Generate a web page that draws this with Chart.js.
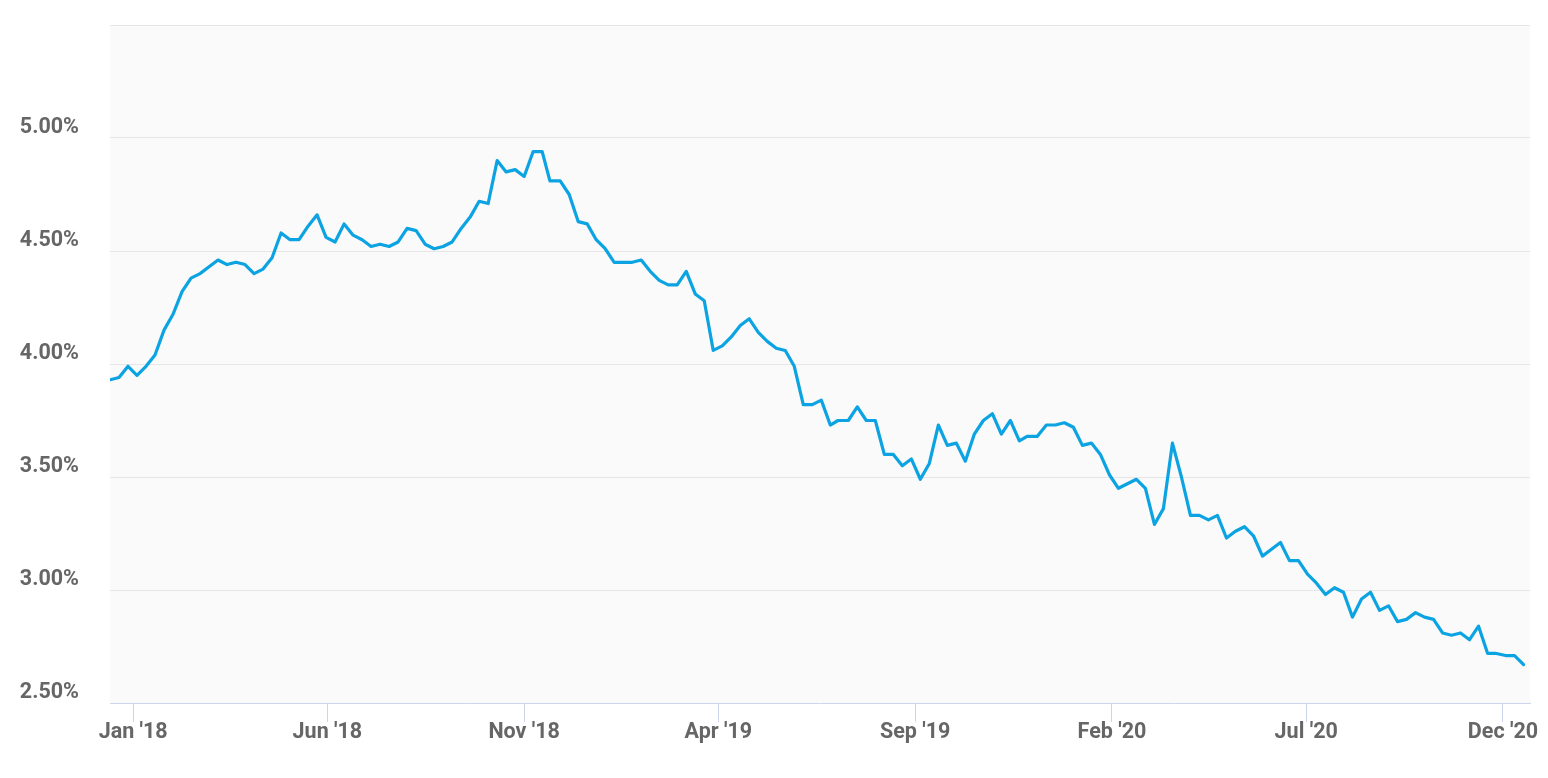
<!DOCTYPE html>
<html>
<head>
<meta charset="utf-8">
<script src="https://cdn.jsdelivr.net/npm/chart.js@4.4.1/dist/chart.umd.min.js"></script>
<style>
  html, body { margin: 0; padding: 0; background: #ffffff; }
  canvas { display: block; }
</style>
</head>
<body>
<canvas id="rate-chart" width="1548" height="778"></canvas>
<script>
// weekly 30-year rate
const weekDates = [
  '2017-12-14', '2017-12-21', '2017-12-28',
  '2018-01-04', '2018-01-11', '2018-01-18', '2018-01-25',
  '2018-02-01', '2018-02-08', '2018-02-15', '2018-02-22',
  '2018-03-01', '2018-03-08', '2018-03-15', '2018-03-22', '2018-03-29',
  '2018-04-05', '2018-04-12', '2018-04-19', '2018-04-26',
  '2018-05-03', '2018-05-10', '2018-05-17', '2018-05-24', '2018-05-31',
  '2018-06-07', '2018-06-14', '2018-06-21', '2018-06-28',
  '2018-07-05', '2018-07-12', '2018-07-19', '2018-07-26',
  '2018-08-02', '2018-08-09', '2018-08-16', '2018-08-23', '2018-08-30',
  '2018-09-06', '2018-09-13', '2018-09-20', '2018-09-27',
  '2018-10-04', '2018-10-11', '2018-10-18', '2018-10-25',
  '2018-11-01', '2018-11-08', '2018-11-15', '2018-11-21', '2018-11-29',
  '2018-12-06', '2018-12-13', '2018-12-20', '2018-12-27',
  '2019-01-03', '2019-01-10', '2019-01-17', '2019-01-24', '2019-01-31',
  '2019-02-07', '2019-02-14', '2019-02-21', '2019-02-28',
  '2019-03-07', '2019-03-14', '2019-03-21', '2019-03-28',
  '2019-04-04', '2019-04-11', '2019-04-18', '2019-04-25',
  '2019-05-02', '2019-05-09', '2019-05-16', '2019-05-23', '2019-05-30',
  '2019-06-06', '2019-06-13', '2019-06-20', '2019-06-27',
  '2019-07-03', '2019-07-11', '2019-07-18', '2019-07-25',
  '2019-08-01', '2019-08-08', '2019-08-15', '2019-08-22', '2019-08-29',
  '2019-09-05', '2019-09-12', '2019-09-19', '2019-09-26',
  '2019-10-03', '2019-10-10', '2019-10-17', '2019-10-24', '2019-10-31',
  '2019-11-07', '2019-11-14', '2019-11-21', '2019-11-27',
  '2019-12-05', '2019-12-12', '2019-12-19', '2019-12-26',
  '2020-01-02', '2020-01-09', '2020-01-16', '2020-01-23', '2020-01-30',
  '2020-02-06', '2020-02-13', '2020-02-20', '2020-02-27',
  '2020-03-05', '2020-03-12', '2020-03-19', '2020-03-26',
  '2020-04-02', '2020-04-09', '2020-04-16', '2020-04-23', '2020-04-30',
  '2020-05-07', '2020-05-14', '2020-05-21', '2020-05-28',
  '2020-06-04', '2020-06-11', '2020-06-18', '2020-06-25',
  '2020-07-02', '2020-07-09', '2020-07-16', '2020-07-23', '2020-07-30',
  '2020-08-06', '2020-08-13', '2020-08-20', '2020-08-27',
  '2020-09-03', '2020-09-10', '2020-09-17', '2020-09-24',
  '2020-10-01', '2020-10-08', '2020-10-15', '2020-10-22', '2020-10-29',
  '2020-11-05', '2020-11-12', '2020-11-19', '2020-11-25',
  '2020-12-03', '2020-12-10', '2020-12-17'
];

const rates = [
  3.93, 3.94, 3.99,
  3.95, 3.99, 4.04, 4.15,
  4.22, 4.32, 4.38, 4.40,
  4.43, 4.46, 4.44, 4.45, 4.44,
  4.40, 4.42, 4.47, 4.58,
  4.55, 4.55, 4.61, 4.66, 4.56,
  4.54, 4.62, 4.57, 4.55,
  4.52, 4.53, 4.52, 4.54,
  4.60, 4.59, 4.53, 4.51, 4.52,
  4.54, 4.60, 4.65, 4.72,
  4.71, 4.90, 4.85, 4.86,
  4.83, 4.94, 4.94, 4.81, 4.81,
  4.75, 4.63, 4.62, 4.55,
  4.51, 4.45, 4.45, 4.45, 4.46,
  4.41, 4.37, 4.35, 4.35,
  4.41, 4.31, 4.28, 4.06,
  4.08, 4.12, 4.17, 4.20,
  4.14, 4.10, 4.07, 4.06, 3.99,
  3.82, 3.82, 3.84, 3.73,
  3.75, 3.75, 3.81, 3.75,
  3.75, 3.60, 3.60, 3.55, 3.58,
  3.49, 3.56, 3.73, 3.64,
  3.65, 3.57, 3.69, 3.75, 3.78,
  3.69, 3.75, 3.66, 3.68,
  3.68, 3.73, 3.73, 3.74,
  3.72, 3.64, 3.65, 3.60, 3.51,
  3.45, 3.47, 3.49, 3.45,
  3.29, 3.36, 3.65, 3.50,
  3.33, 3.33, 3.31, 3.33, 3.23,
  3.26, 3.28, 3.24, 3.15,
  3.18, 3.21, 3.13, 3.13,
  3.07, 3.03, 2.98, 3.01, 2.99,
  2.88, 2.96, 2.99, 2.91,
  2.93, 2.86, 2.87, 2.90,
  2.88, 2.87, 2.81, 2.80, 2.81,
  2.78, 2.84, 2.72, 2.72,
  2.71, 2.71, 2.67
];

const xTickDates = ['2018-01-01', '2018-06-01', '2018-11-01', '2019-04-01',
  '2019-09-01', '2020-02-01', '2020-07-01', '2020-12-01'];
const xTickLabels = ["Jan '18", "Jun '18", "Nov '18", "Apr '19",
  "Sep '19", "Feb '20", "Jul '20", "Dec '20"];

const yTickValues = [2.5, 3.0, 3.5, 4.0, 4.5, 5.0, 5.5];
const yTickLabels = ['2.50%', '3.00%', '3.50%', '4.00%', '4.50%', '5.00%', ''];

const xStart = '2017-12-14';
const xEnd = '2020-12-22';

function toDay(iso) {
  return Date.parse(iso) / 86400000;
}

const points = weekDates.map((d, i) => ({ x: toDay(d), y: rates[i] }));

const tickFont = { family: 'Roboto', size: 21.5, weight: 'bold' };

const plotBackground = {
  id: 'plotBackground',
  beforeDraw(chart) {
    const { ctx, chartArea } = chart;
    ctx.save();
    ctx.fillStyle = '#fafafa';
    ctx.fillRect(chartArea.left, chartArea.top, chartArea.right - chartArea.left, chartArea.bottom - chartArea.top);
    ctx.restore();
  },
};

// eslint-disable-next-line no-undef, no-unused-vars
const chart = new Chart(document.getElementById('rate-chart'), {
  type: 'line',
  data: {
    datasets: [{
      label: '30-year rate',
      data: points,
      borderColor: '#0ba3e2',
      borderWidth: 3.2,
      borderJoinStyle: 'round',
      borderCapStyle: 'round',
      pointRadius: 0,
      tension: 0,
      fill: false,
    }],
  },
  options: {
    responsive: false,
    animation: false,
    layout: { padding: { left: 0, right: 18, top: 25, bottom: 0 } },
    plugins: {
      legend: { display: false },
      tooltip: { enabled: false },
    },
    scales: {
      x: {
        type: 'linear',
        min: toDay(xStart),
        max: toDay(xEnd),
        afterBuildTicks(scale) {
          scale.ticks = xTickDates.map((d) => ({ value: toDay(d) }));
        },
        afterFit(scale) {
          scale.height = 75;
          scale.paddingLeft = 0;
          scale.paddingRight = 0;
        },
        grid: {
          drawOnChartArea: false,
          drawTicks: true,
          tickLength: 19,
          color: '#ccd6eb',
        },
        border: { display: true, color: '#ccd6eb', width: 1 },
        ticks: {
          autoSkip: false,
          maxRotation: 0,
          padding: -2,
          color: '#666666',
          font: tickFont,
          callback(value) {
            const i = xTickDates.findIndex((d) => toDay(d) === value);
            return i >= 0 ? xTickLabels[i] : '';
          },
        },
      },
      y: {
        min: 2.5,
        max: 5.5,
        afterBuildTicks(scale) {
          scale.ticks = yTickValues.map((v) => ({ value: v }));
        },
        afterFit(scale) {
          // labels sit in the margin; don't let them push the plot down
          scale.width = 110;
          scale.paddingTop = 0;
          scale.paddingBottom = 0;
        },
        grid: {
          drawTicks: false,
          color: (c) => (c.tick && c.tick.value === 2.5 ? 'rgba(0,0,0,0)' : '#e6e6e6'),
        },
        border: { display: false },
        ticks: {
          padding: 31,
          labelOffset: -10,
          color: '#666666',
          font: tickFont,
          callback(value) {
            const i = yTickValues.indexOf(value);
            return i >= 0 ? yTickLabels[i] : '';
          },
        },
      },
    },
  },
  plugins: [plotBackground],
});
</script>
</body>
</html>
